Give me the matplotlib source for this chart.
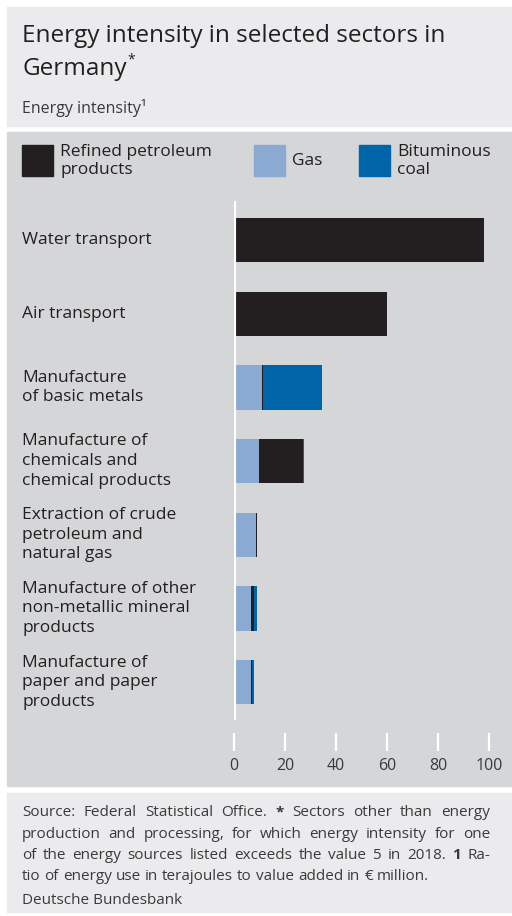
import matplotlib
matplotlib.use('Agg')
import matplotlib.pyplot as plt
from matplotlib.patches import Rectangle
from matplotlib import transforms

plt.rcParams['font.family'] = ['Open Sans', 'DejaVu Sans']

# data
sectors = ["Water transport", "Air transport", "Manufacture\nof basic metals",
           "Manufacture of\nchemicals and\nchemical products",
           "Extraction of crude\npetroleum and\nnatural gas",
           "Manufacture of other\nnon-metallic mineral\nproducts",
           "Manufacture of\npaper and paper\nproducts"]
gas = [0, 0, 10.8, 9.8, 8.6, 6.7, 6.7]
petroleum = [98, 60, 0.6, 17.4, 0.6, 1.3, 0.3]
coal = [0, 0, 23, 0.4, 0, 0.9, 1.0]
xticks = [0, 20, 40, 60, 80, 100]

c_pet = '#231f20'
c_gas = '#8aaad2'
c_coal = '#0064a8'
c_dark = '#d5d6d8'
c_light = '#ebebed'
c_text = '#231f20'

W, H = 512, 916
fig = plt.figure(figsize=(W / 100, H / 100), dpi=100)


def fx(px):
    return px / W


def fy(py):
    return 1 - py / H


def panel(x0, y0, x1, y1, color):
    fig.add_artist(Rectangle((fx(x0), fy(y1)), (x1 - x0) / W, (y1 - y0) / H,
                             transform=fig.transFigure, color=color, zorder=0))


panel(7, 7, 512, 126, c_light)
panel(7, 132, 512, 786, c_dark)
panel(7, 793, 512, 912, c_light)

renderer = fig.canvas.get_renderer()

# title
fig.text(fx(22), fy(42), "Energy intensity in selected sectors in", fontsize=17.5,
         color=c_text, va='baseline')
g = fig.text(fx(22), fy(75), "Germany", fontsize=17.5, color=c_text, va='baseline')
gx1 = g.get_window_extent(renderer).x1
fig.text(gx1 / W + 0.002, fy(63), "*", fontsize=10, color=c_text, va='baseline')
fig.text(fx(22), fy(113), "Energy intensity\u00b9", fontsize=11.5, color='#3a3a3a',
         va='baseline')

# legend
leg = [(c_pet, "Refined petroleum\nproducts", 22), (c_gas, "Gas", 254),
       (c_coal, "Bituminous\ncoal", 359)]
for col, lab, x in leg:
    fig.add_artist(Rectangle((fx(x), fy(176)), 31 / W, 31 / H,
                             transform=fig.transFigure, color=col, zorder=2))
    fig.text(fx(x + 38), fy(161), lab, fontsize=12.5, color=c_text, va='center',
             linespacing=1.25)

# bars
ax = fig.add_axes([fx(234), fy(733), 255 / W, (733 - 200) / H])
ax.set_facecolor('none')
y = list(range(len(sectors)))
left = [0] * len(y)
for vals, col in [(gas, c_gas), (petroleum, c_pet), (coal, c_coal)]:
    ax.barh(y, vals, left=left, height=0.6, color=col, zorder=2)
    left = [a + b for a, b in zip(left, vals)]

ax.set_xlim(0, 100)
ax.set_ylim(6.69, -0.543)
ax.axvline(0, ymin=15 / 533, ymax=1 - 3 / 533, color='white', lw=3, zorder=3)
for s in ax.spines.values():
    s.set_visible(False)
ax.set_yticks([])
ax.set_xticks(xticks)
ax.tick_params(axis='x', direction='out', length=13, width=1.6, color='white',
               pad=5, labelsize=11.5, labelcolor='#3a3a3a')

tr = transforms.blended_transform_factory(fig.transFigure, ax.transData)
for i, s in enumerate(sectors):
    fig.text(fx(22), i, s, transform=tr, fontsize=12.5, color=c_text,
             va='center', ha='left', linespacing=1.3)

# footer, justified
lines = [
    [("Source:", 0), ("Federal", 0), ("Statistical", 0), ("Office.", 0), ("*", 1),
     ("Sectors", 0), ("other", 0), ("than", 0), ("energy", 0)],
    [("production", 0), ("and", 0), ("processing,", 0), ("for", 0), ("which", 0),
     ("energy", 0), ("intensity", 0), ("for", 0), ("one", 0)],
    [("of", 0), ("the", 0), ("energy", 0), ("sources", 0), ("listed", 0),
     ("exceeds", 0), ("the", 0), ("value", 0), ("5", 0), ("in", 0), ("2018.", 0),
     ("1", 1), ("Ra-", 0)],
    [("tio", 0), ("of", 0), ("energy", 0), ("use", 0), ("in", 0), ("terajoules", 0),
     ("to", 0), ("value", 0), ("added", 0), ("in", 0), ("\u20ac", 0), ("million.", 0)],
]
fsz = 11
for k, words in enumerate(lines):
    yb = fy(816 + k * 21.5)
    ts = [fig.text(0, yb, w, fontsize=fsz, color='#3a3a3a', va='baseline',
                   fontweight='bold' if b else 'normal') for w, b in words]
    ws = [t.get_window_extent(renderer).width for t in ts]
    if k < len(lines) - 1:
        gap = (490 - 22 - sum(ws)) / (len(ws) - 1)
    else:
        gap = 0.26 * fsz * 100 / 72
    x = 22
    for t, w in zip(ts, ws):
        t.set_x(fx(x))
        x += w + gap
fig.text(fx(22), fy(904), "Deutsche Bundesbank", fontsize=11, color='#3a3a3a',
         va='baseline')

fig.savefig('out.png', dpi=100, facecolor='white')
